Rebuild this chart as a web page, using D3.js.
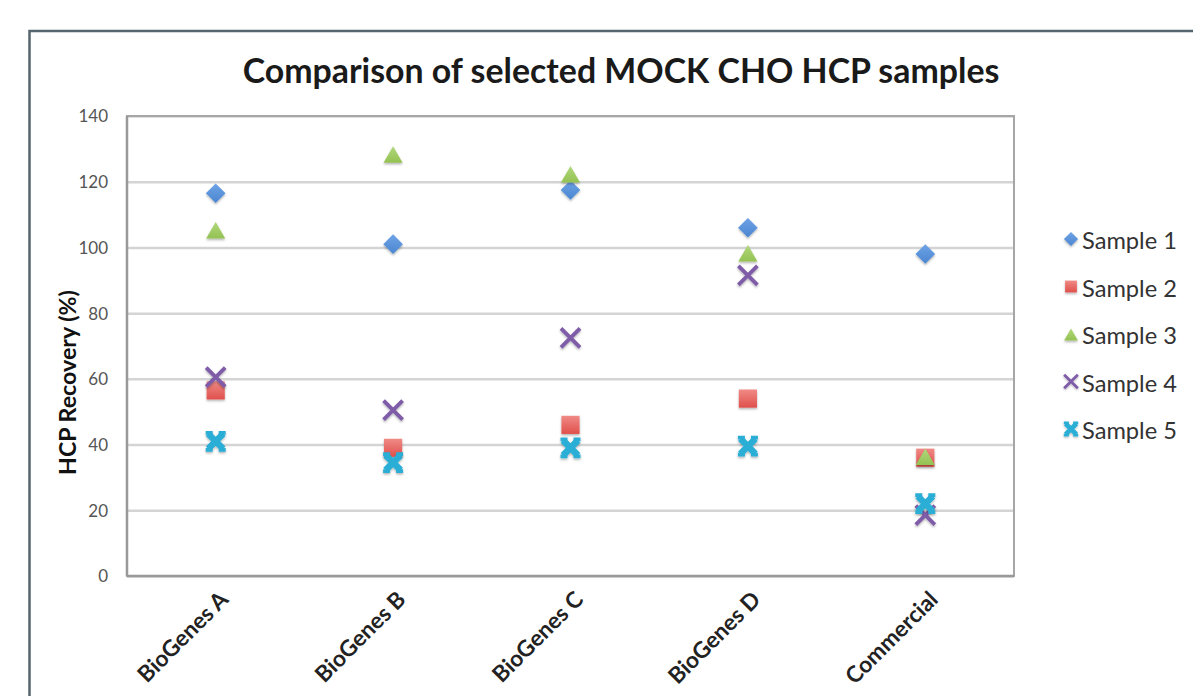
<!DOCTYPE html>
<html><head><meta charset="utf-8">
<script src="https://cdn.jsdelivr.net/npm/d3@7"></script>
<style>body{margin:0;background:#fff}svg{display:block}</style>
</head><body>
<svg id="c" width="1193" height="696"></svg>
<script>
const categories = ["BioGenes A","BioGenes B","BioGenes C","BioGenes D","Commercial"];
const seriesNames = ["Sample 1","Sample 2","Sample 3","Sample 4","Sample 5"];
const sample1 = [116.5, 101, 117.5, 106, 98];
const sample2 = [56.5, 39, 46, 54, 36];
const sample3 = [105.5, 128.5, 122.5, 98.5, 36.5];
const sample4 = [60.5, 50.5, 72.5, 91.5, 18.5];
const sample5 = [41, 34.5, 39, 39.5, 22];
const yTicks = [0,20,40,60,80,100,120,140];

const seriesData = [sample1, sample2, sample3, sample4, sample5];
const colors = ["#4a86d0","#e0504c","#94c253","#7e5ba8","#2aaed6"];
const colorsLight = ["#6fa3e6","#f08a86","#b0d77a","#9a7cc4","#4cc4e8"];
const symbols = [d3.symbolDiamond2, d3.symbolSquare2, d3.symbolTriangle2];

const svg = d3.select("#c");
const font = "Lato, 'Open Sans', 'DejaVu Sans', sans-serif";

function fit(sel, target){
  const w = sel.node().getComputedTextLength();
  const fs = parseFloat(sel.attr("font-size"));
  sel.attr("font-size", fs * target / w);
}

const defs = svg.append("defs");
const f = defs.append("filter").attr("id","sh").attr("x","-50%").attr("y","-50%").attr("width","200%").attr("height","200%");
f.append("feDropShadow").attr("dx",0).attr("dy",1.5).attr("stdDeviation",1.2).attr("flood-color","#000").attr("flood-opacity",0.3);
colors.forEach((c,i)=>{
  const lg = defs.append("linearGradient").attr("id","g"+i).attr("x1",0).attr("y1",0).attr("x2",0).attr("y2",1);
  lg.append("stop").attr("offset","0%").attr("stop-color",colorsLight[i]);
  lg.append("stop").attr("offset","100%").attr("stop-color",c);
});

// outer border
svg.append("rect").attr("x",29.5).attr("y",31).attr("width",1180).attr("height",700)
  .attr("fill","none").attr("stroke","#56666e").attr("stroke-width",2.5);

const L = 127, R = 1014, T = 116, B = 576;
const x = d3.scaleBand().domain(categories).range([L, R]);
const y = d3.scaleLinear().domain([0,140]).range([B, T]);

// title
const title = svg.append("text").attr("x", 621).attr("y", 83).attr("text-anchor","middle")
  .attr("font-family", font).attr("font-weight","bold").attr("font-size", 30).attr("fill","#1a1a1a")
  .text("Comparison of selected MOCK CHO HCP samples");
fit(title, 757);

// gridlines
const grid = d3.axisLeft(y).tickValues(yTicks).tickSize(-(R-L)).tickFormat("");
svg.append("g").attr("transform",`translate(${L},0)`).call(grid)
  .call(g=>g.select(".domain").remove())
  .call(g=>g.selectAll("line").attr("stroke","#d4d4d4").attr("stroke-width",2.5));

// frame
svg.append("rect").attr("x",L).attr("y",T).attr("width",R-L).attr("height",B-T)
  .attr("fill","none").attr("stroke","#a6a6a6").attr("stroke-width",2);

// y axis labels
const yAxis = d3.axisLeft(y).tickValues(yTicks).tickSize(0).tickPadding(19);
svg.append("g").attr("transform",`translate(${L},0)`).call(yAxis)
  .call(g=>g.select(".domain").remove())
  .call(g=>g.selectAll("text").attr("font-family",font).attr("font-size",17).attr("fill","#555").attr("dy","0.35em"));

svg.append("line").attr("x1",L).attr("x2",R).attr("y1",B).attr("y2",B).attr("stroke","#999").attr("stroke-width",2.5);
svg.append("line").attr("x1",L).attr("x2",L).attr("y1",T).attr("y2",B).attr("stroke","#999").attr("stroke-width",2.5);

// x labels
const xAxis = d3.axisBottom(x).tickSize(0).tickPadding(0);
const xg = svg.append("g").attr("transform",`translate(0,${B})`).call(xAxis);
xg.select(".domain").remove();
xg.selectAll("text")
    .attr("font-family",font).attr("font-weight","bold").attr("font-size",19).attr("fill","#222")
    .attr("text-anchor","end").attr("dy",0).attr("y",0)
    .attr("transform","translate(14,25) rotate(-45)");
fit(xg.selectAll("text").filter((d,i)=>i===0), 117);
const xfs = xg.select("text").attr("font-size");
xg.selectAll("text").attr("font-size", xfs);

// y title
const yt = svg.append("text").attr("transform",`translate(76,382.5) rotate(-90)`)
  .attr("text-anchor","middle").attr("font-family",font).attr("font-weight","bold").attr("font-size",17).attr("fill","#111")
  .text("HCP Recovery (%)");
fit(yt, 185);

function drawMarker(g, i, cx, cy, scale){
  const col = colors[i];
  const sc = scale||1;
  if (i===3){
    g.append("path").attr("d", "M-9.5,-9.5L9.5,9.5M-9.5,9.5L9.5,-9.5")
      .attr("transform",`translate(${cx},${cy}) scale(${sc})`)
      .attr("fill","none").attr("stroke",col).attr("stroke-width",3.8).attr("filter","url(#sh)");
  } else if (i===4){
    const gg = g.append("g").attr("transform",`translate(${cx},${cy}) scale(${sc})`).attr("filter","url(#sh)");
    gg.append("path").attr("d","M-7.5,-7.5L7.5,7.5M-7.5,7.5L7.5,-7.5").attr("stroke",col).attr("stroke-width",6.5).attr("fill","none");
    gg.append("path").attr("d","M-10,-8.5H-3M3,-8.5H10M-10,8.5H-3M3,8.5H10").attr("stroke",col).attr("stroke-width",3.8).attr("fill","none");
  } else {
    const sizes = [245, 420, 260];
    const s = sizes[i]*sc*sc;
    let dy = 0;
    if (i===2){ const side = Math.sqrt(4*s/Math.sqrt(3)); dy = side*Math.sqrt(3)/2/6; }
    g.append("path").attr("d", d3.symbol(symbols[i], s)())
      .attr("transform",`translate(${cx},${cy + dy})`)
      .attr("fill",`url(#g${i})`).attr("filter","url(#sh)");
  }
}

const pts = svg.append("g");
seriesData.forEach((arr, i) => {
  arr.forEach((v, j) => {
    drawMarker(pts, i, x(categories[j]) + x.bandwidth()/2, y(v));
  });
});

// legend
const leg = svg.append("g");
const ly = d3.scalePoint().domain(seriesNames).range([241, 431]);
seriesNames.forEach((n, i) => {
  const yy = ly(n);
  drawMarker(leg, i, 1071, yy - 2, i===1 ? 0.65 : 0.72);
  const t = leg.append("text").attr("x",1082).attr("y",yy).attr("dy","0.35em")
    .attr("font-family",font).attr("font-size",19).attr("fill","#333").text(n);
  fit(t, 95);
});
</script>
</body></html>
